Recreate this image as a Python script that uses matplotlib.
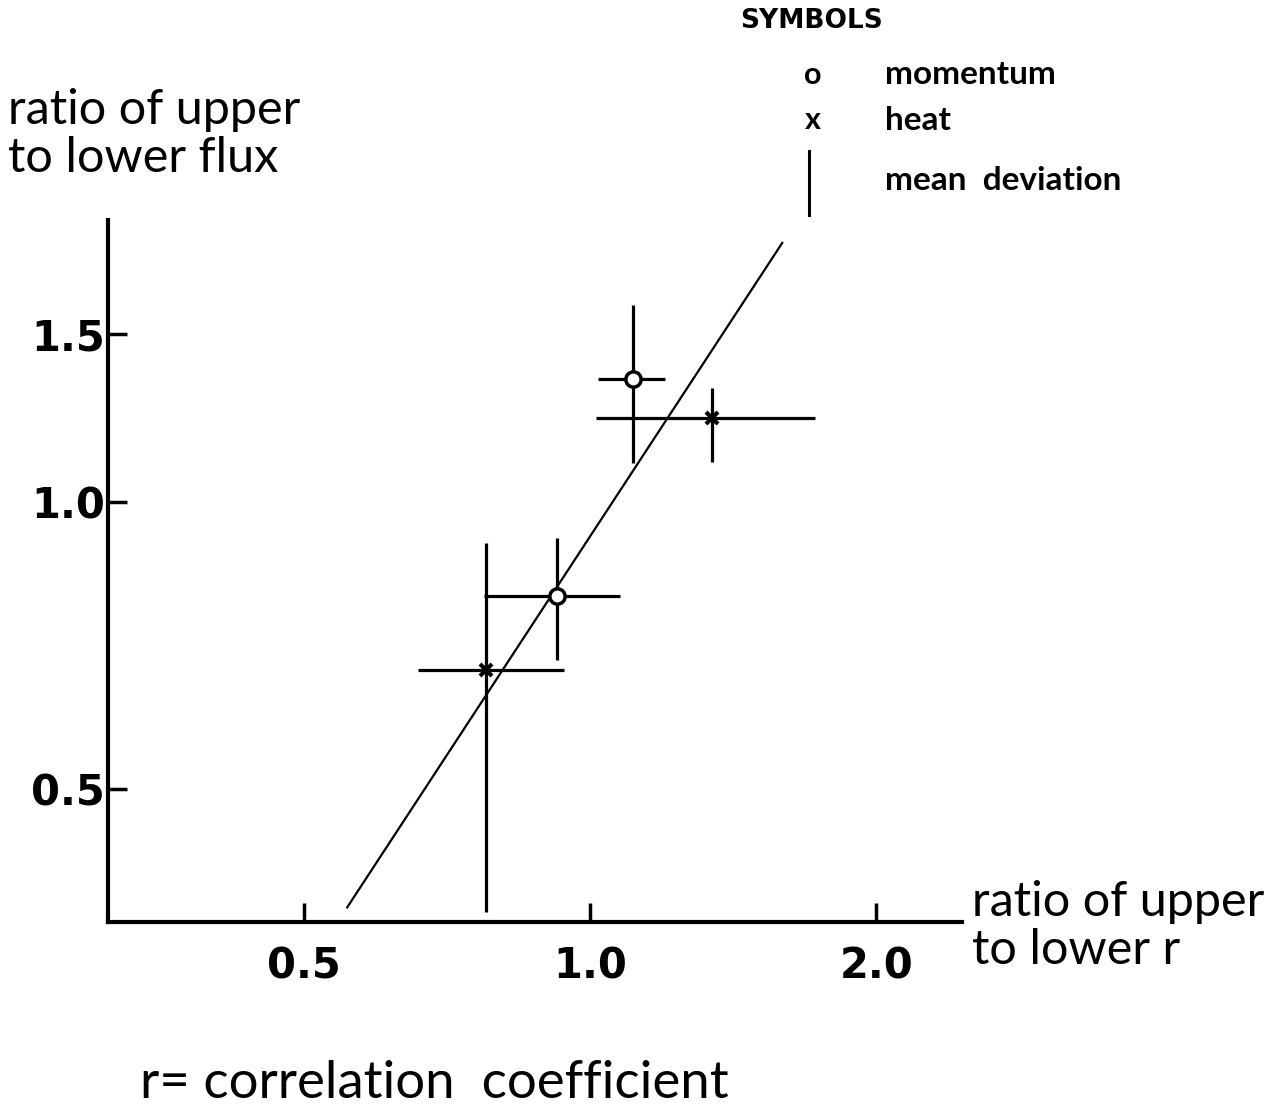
import matplotlib.pyplot as plt
import numpy as np

# ratio of upper to lower correlation coefficient (x) and flux (y)
mom_x = [0.923, 1.11]
mom_y = [0.797, 1.345]
mom_x_lo = [0.774, 1.02]
mom_x_hi = [1.075, 1.199]
mom_y_lo = [0.683, 1.099]
mom_y_hi = [0.917, 1.607]

heat_x = [0.776, 1.344]
heat_y = [0.667, 1.224]
heat_x_lo = [0.659, 1.015]
heat_x_hi = [0.939, 1.724]
heat_y_lo = [0.372, 1.101]
heat_y_hi = [0.906, 1.316]

# fitted line end points
fit_x = [0.555, 1.592]
fit_y = [0.376, 1.867]

x_ticks = [0.5, 1.0, 2.0]
y_ticks = [0.5, 1.0, 1.5]

plt.rcParams['font.family'] = ['Lato', 'DejaVu Sans']

fig = plt.figure(figsize=(12.86, 11.15), dpi=100)
ax = fig.add_axes([0.084, 0.1731, 0.664, 0.6296])
ax.set_xscale('log')
ax.set_yscale('log')
ax.set_xlim(0.311, 2.46)
ax.set_ylim(0.363, 1.973)


def draw_bars(x, y, xlo, xhi, ylo, yhi, **kw):
    x = np.array(x)
    y = np.array(y)
    xerr = [x - np.array(xlo), np.array(xhi) - x]
    yerr = [y - np.array(ylo), np.array(yhi) - y]
    ax.errorbar(x, y, xerr=xerr, yerr=yerr, ls='none', ecolor='black',
                elinewidth=2.3, capsize=0, **kw)


ax.plot(fit_x, fit_y, color='black', lw=1.6, zorder=1)
draw_bars(heat_x, heat_y, heat_x_lo, heat_x_hi, heat_y_lo, heat_y_hi,
          marker='x', ms=9, mew=3, mec='black', zorder=2)
draw_bars(mom_x, mom_y, mom_x_lo, mom_x_hi, mom_y_lo, mom_y_hi,
          marker='o', ms=11, mew=2.5, mec='black', mfc='white', zorder=3)

for side in ['top', 'right']:
    ax.spines[side].set_visible(False)
for side in ['left', 'bottom']:
    ax.spines[side].set_linewidth(3)

ax.xaxis.set_minor_locator(plt.NullLocator())
ax.yaxis.set_minor_locator(plt.NullLocator())
ax.set_xticks(x_ticks)
ax.set_xticklabels(['0.5', '1.0', '2.0'])
ax.set_yticks(y_ticks)
ax.set_yticklabels(['0.5', '1.0', '1.5'])
ax.tick_params(direction='in', length=14, width=2.5, labelsize=30)
ax.tick_params(axis='x', pad=17)
ax.tick_params(axis='y', pad=2)
for lab in ax.get_xticklabels() + ax.get_yticklabels():
    lab.set_fontfamily('DejaVu Sans')
    lab.set_fontweight('bold')

# axis titles and notes
fig.text(0.006, 0.921, 'ratio of upper\nto lower flux', fontsize=35,
         va='top', ha='left', linespacing=1.12)
fig.text(0.756, 0.211, 'ratio of upper\nto lower r', fontsize=35,
         va='top', ha='left', linespacing=1.12)
fig.text(0.109, 0.015, 'r= correlation  coefficient', fontsize=38,
         va='baseline', ha='left')

# symbol key
fig.text(0.631, 0.981, 'SYMBOLS', fontsize=19, fontweight='bold',
         family='DejaVu Sans', va='center', ha='center')
fig.text(0.632, 0.933, 'o', fontsize=22, fontweight='bold', va='center', ha='center')
fig.text(0.688, 0.933, 'momentum', fontsize=24, fontweight='bold', va='center', ha='left')
fig.text(0.632, 0.892, 'x', fontsize=22, fontweight='bold', va='center', ha='center')
fig.text(0.688, 0.892, 'heat', fontsize=24, fontweight='bold', va='center', ha='left')
fig.add_artist(plt.Line2D([0.629, 0.629], [0.807, 0.865], color='black', lw=2.2))
fig.text(0.688, 0.838, 'mean  deviation', fontsize=24, fontweight='bold',
         va='center', ha='left')

fig.savefig('out.png', dpi=100)
